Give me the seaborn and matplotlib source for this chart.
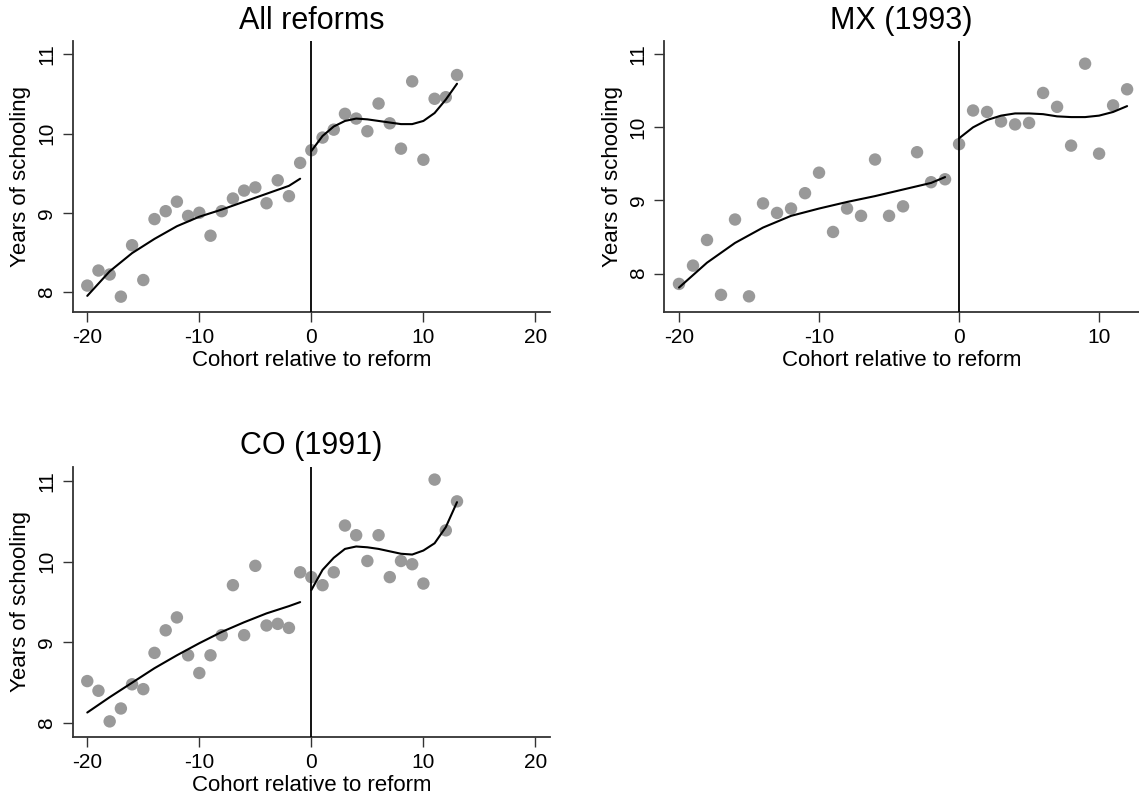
import pandas as pd
import matplotlib
matplotlib.use("Agg")
import matplotlib.pyplot as plt
import seaborn as sns

sns.set_style("white")
plt.rcParams['font.family'] = ['Liberation Sans', 'DejaVu Sans']
plt.rcParams['text.color'] = 'black'
plt.rcParams['axes.labelcolor'] = 'black'
plt.rcParams['xtick.color'] = 'black'
plt.rcParams['ytick.color'] = 'black'

# cohorts relative to reform
cohort_all = list(range(-20, 14))
cohort_mx = list(range(-20, 13))
cohort_co = list(range(-20, 14))

# mean years of schooling by cohort
school_all = [8.08, 8.27, 8.22, 7.94, 8.59, 8.15, 8.92, 9.02, 9.14, 8.96,
              9.00, 8.71, 9.02, 9.18, 9.28, 9.32, 9.12, 9.41, 9.21, 9.63,
              9.79, 9.95, 10.05, 10.25, 10.19, 10.03, 10.38, 10.13, 9.81, 10.66,
              9.67, 10.44, 10.46, 10.74]
school_mx = [7.86, 8.11, 8.46, 7.71, 8.74, 7.69, 8.96, 8.83, 8.89, 9.10,
             9.38, 8.57, 8.89, 8.79, 9.56, 8.79, 8.92, 9.66, 9.25, 9.29,
             9.77, 10.23, 10.21, 10.08, 10.04, 10.06, 10.47, 10.28, 9.75, 10.87,
             9.64, 10.30, 10.52]
school_co = [8.52, 8.40, 8.02, 8.18, 8.48, 8.42, 8.87, 9.15, 9.31, 8.84,
             8.62, 8.84, 9.09, 9.71, 9.09, 9.95, 9.21, 9.23, 9.18, 9.87,
             9.81, 9.71, 9.87, 10.45, 10.33, 10.01, 10.33, 9.81, 10.01, 9.97,
             9.73, 11.02, 10.39, 10.75]

# fitted curves, before and after the reform
fit_pre_x = [-20, -18, -16, -14, -12, -10, -8, -6, -4, -2, -1]
fit_all_pre = [7.95, 8.26, 8.49, 8.67, 8.83, 8.95, 9.04, 9.14, 9.24, 9.34, 9.43]
fit_mx_pre = [7.81, 8.15, 8.42, 8.63, 8.79, 8.89, 8.98, 9.06, 9.15, 9.24, 9.32]
fit_co_pre = [8.13, 8.32, 8.50, 8.68, 8.84, 8.99, 9.13, 9.25, 9.36, 9.45, 9.50]

fit_post_x = list(range(0, 14))
fit_post_x_mx = list(range(0, 13))
fit_all_post = [9.78, 9.97, 10.09, 10.16, 10.19, 10.18, 10.16, 10.14, 10.12, 10.12,
                10.16, 10.26, 10.43, 10.63]
fit_mx_post = [9.85, 10.00, 10.10, 10.16, 10.19, 10.19, 10.18, 10.15, 10.14, 10.14,
               10.16, 10.21, 10.29]
fit_co_post = [9.65, 9.90, 10.05, 10.16, 10.19, 10.18, 10.16, 10.13, 10.10, 10.09,
               10.14, 10.23, 10.43, 10.74]

titles = ["All reforms", "MX (1993)", "CO (1991)"]

W, H = 1139, 802
fig = plt.figure(figsize=(W / 100, H / 100), dpi=100)


def px_axes(left, right, top, bottom):
    return fig.add_axes([left / W, 1 - bottom / H, (right - left) / W, (bottom - top) / H])


panels = [
    (cohort_all, school_all, fit_all_pre, fit_post_x, fit_all_post, titles[0],
     (72.7, 550, 41, 311.7), (-21.3, 21.3), (7.75, 11.17), [-20, -10, 0, 10, 20]),
    (cohort_mx, school_mx, fit_mx_pre, fit_post_x_mx, fit_mx_post, titles[1],
     (664.3, 1139, 41, 311.7), (-21.05, 12.85), (7.48, 11.18), [-20, -10, 0, 10]),
    (cohort_co, school_co, fit_co_pre, fit_post_x, fit_co_post, titles[2],
     (72.7, 550, 466.7, 736.7), (-21.3, 21.3), (7.83, 11.18), [-20, -10, 0, 10, 20]),
]

for x, y, pre_y, post_x, post_y, title, box, xlim, ylim, xticks in panels:
    ax = px_axes(*box)
    df = pd.DataFrame({"cohort": x, "years": y})

    sns.scatterplot(data=df, x="cohort", y="years", color="#999999", s=80,
                    edgecolor="none", ax=ax, zorder=2)
    sns.lineplot(x=fit_pre_x, y=pre_y, color="black", lw=1.5, ax=ax, zorder=3)
    sns.lineplot(x=post_x, y=post_y, color="black", lw=1.5, ax=ax, zorder=3)
    ax.axvline(0, color="black", lw=1.3, zorder=3)

    ax.set_xlim(*xlim)
    ax.set_ylim(*ylim)
    ax.set_xticks(xticks)
    ax.set_yticks([8, 9, 10, 11])
    ax.set_xticklabels([str(t) for t in xticks], fontsize=15)
    ax.set_yticklabels(["8", "9", "10", "11"], fontsize=15, rotation=90, va="center")
    ax.tick_params(axis="both", direction="out", length=7, width=1, color="#333333", pad=5,
                   bottom=True, left=True)
    for side in ("top", "right"):
        ax.spines[side].set_visible(False)
    for side in ("left", "bottom"):
        ax.spines[side].set_color("#333333")
        ax.spines[side].set_linewidth(1.3)
    ax.set_xlabel("Cohort relative to reform", fontsize=16, labelpad=2)
    ax.set_ylabel("Years of schooling", fontsize=16, labelpad=4)
    ax.set_title(title, fontsize=22, pad=9)

fig.savefig("out.png", dpi=100)
